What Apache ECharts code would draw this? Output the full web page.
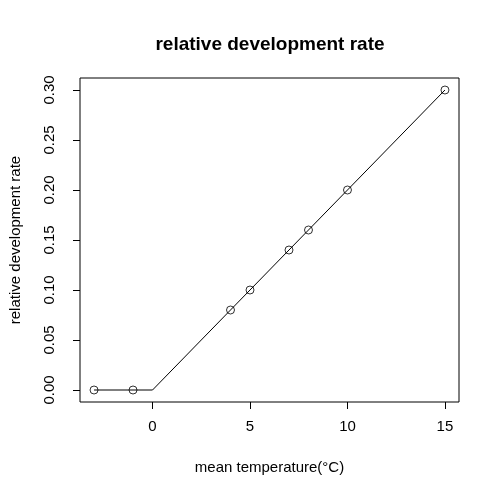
<!DOCTYPE html>
<html>
<head>
<meta charset="utf-8">
<script src="https://cdn.jsdelivr.net/npm/echarts@6/dist/echarts.min.js"></script>
<style>
  html, body { margin: 0; padding: 0; background: #fff; }
  #main { width: 500px; height: 500px; }
</style>
</head>
<body>
<div id="main"></div>
<script>
// observed points
var tempObs = [-3, -1, 4, 5, 7, 8, 10, 15];
var rateObs = [0, 0, 0.08, 0.10, 0.14, 0.16, 0.20, 0.30];
// fitted line (threshold at 0)
var tempLine = [-3, -1, 0, 4, 5, 7, 8, 10, 15];
var rateLine = [0, 0, 0, 0.08, 0.10, 0.14, 0.16, 0.20, 0.30];
var xTicks = [0, 5, 10, 15];
var yTicks = [0, 0.05, 0.10, 0.15, 0.20, 0.25, 0.30];

var font = 'Liberation Sans, Arial, sans-serif';
var chart = echarts.init(document.getElementById('main'));

var option = {
  backgroundColor: '#ffffff',
  animation: false,
  title: {
    text: 'relative development rate',
    left: 265,
    top: 30,
    textAlign: 'center',
    textStyle: { fontFamily: font, fontSize: 19, fontWeight: 'bold', color: '#000' }
  },
  grid: {
    left: 79, right: 41, top: 78, bottom: 98,
    show: true, borderColor: '#000', borderWidth: 1, backgroundColor: 'transparent'
  },
  xAxis: {
    type: 'value',
    min: -3.72, max: 15.72,
    name: 'mean temperature(°C)',
    nameLocation: 'middle',
    nameGap: 58,
    nameTextStyle: { fontFamily: font, fontSize: 15, color: '#000' },
    axisLine: { show: false, onZero: false },
    splitLine: { show: false },
    axisTick: { show: true, length: 7, inside: false, customValues: xTicks, lineStyle: { color: '#000' } },
    axisLabel: {
      customValues: xTicks,
      fontFamily: font, fontSize: 15, color: '#000', margin: 17
    }
  },
  yAxis: {
    type: 'value',
    min: -0.012, max: 0.312,
    name: 'relative development rate',
    nameLocation: 'middle',
    nameGap: 57,
    nameTextStyle: { fontFamily: font, fontSize: 15, color: '#000' },
    axisLine: { show: false, onZero: false },
    splitLine: { show: false },
    axisTick: { show: true, length: 7, inside: false, customValues: yTicks, lineStyle: { color: '#000' } },
    axisLabel: {
      customValues: yTicks,
      rotate: 90,
      fontFamily: font, fontSize: 15, color: '#000', margin: 23,
      formatter: function (v) { return v.toFixed(2); }
    }
  },
  series: [
    {
      type: 'line',
      data: tempLine.map(function (t, i) { return [t, rateLine[i]]; }),
      showSymbol: false,
      symbol: 'none',
      lineStyle: { color: '#000', width: 1 },
      z: 2
    },
    {
      type: 'scatter',
      data: tempObs.map(function (t, i) { return [t, rateObs[i]]; }),
      symbol: 'circle',
      symbolSize: 8,
      itemStyle: { color: 'transparent', borderColor: '#000', borderWidth: 1 },
      z: 3
    }
  ]
};
chart.setOption(option);
</script>
</body>
</html>
